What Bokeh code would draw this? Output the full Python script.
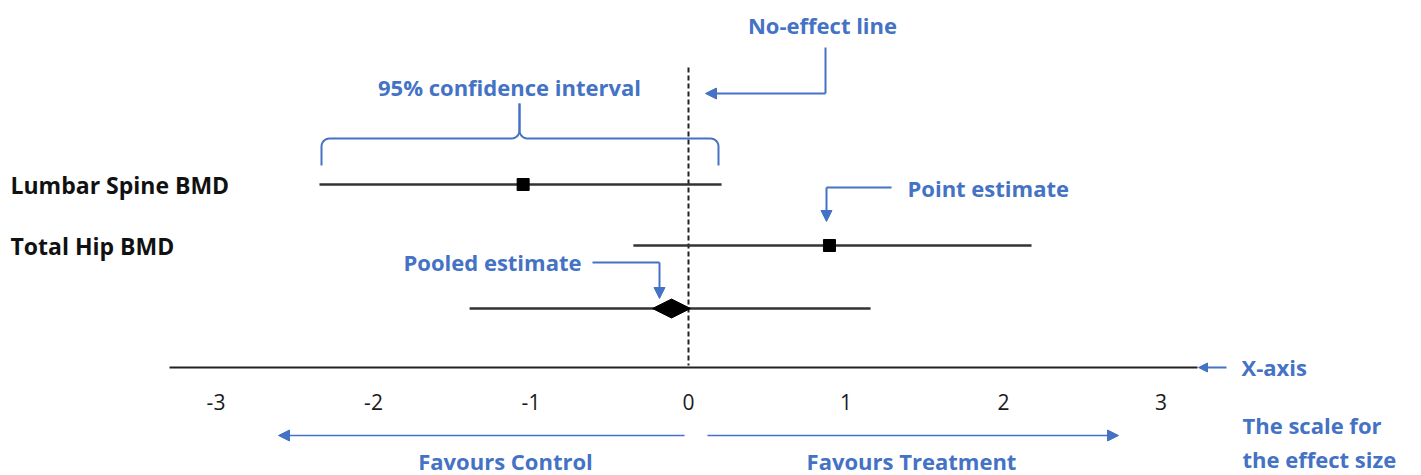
import numpy as np
from bokeh.plotting import figure
from bokeh.models import Range1d, Arrow, NormalHead
from bokeh.core.properties import value
from bokeh.embed import file_html
from bokeh.resources import INLINE

# ---------------- data ----------------
study_labels = ["Lumbar Spine BMD", "Total Hip BMD"]
study_est = [-1.05, 0.895]
study_lo = [-2.343, -0.35]
study_hi = [0.21, 2.178]
pooled_est = [-0.108]
pooled_lo = [-1.39]
pooled_hi = [1.156]
tick_values = [-3, -2, -1, 0, 1, 2, 3]
tick_labels = ["-3", "-2", "-1", "0", "1", "2", "3"]

# ---------------- layout ----------------
W, H = 1421, 475
X0 = 688.0      # pixel of effect 0
S = 157.5       # pixels per effect unit
BLUE = "#4472C4"
FONT = value("Open Sans")
FS = "22px"
ROW_Y0, ROW_STEP = 184, 61
AXIS_Y = 367


def dx(px):
    return (px - X0) / S


p = figure(width=W, height=H, x_range=Range1d(dx(0), dx(W)), y_range=Range1d(H, 0),
           output_backend="svg", toolbar_location=None, min_border=0,
           x_axis_type=None, y_axis_type=None)
p.grid.visible = False
p.outline_line_color = None
p.background_fill_color = "white"
p.border_fill_color = "white"

study_y = [ROW_Y0 + i * ROW_STEP for i in range(len(study_labels))]
pooled_y = [ROW_Y0 + len(study_labels) * ROW_STEP + 2]

# no-effect line
p.segment(x0=[0], x1=[0], y0=[67], y1=[AXIS_Y - 2], line_color="#222222",
          line_width=2, line_dash="5 3")

# x axis line + tick labels
p.segment(x0=[dx(169)], x1=[dx(1197)], y0=[AXIS_Y], y1=[AXIS_Y], line_color="#222222", line_width=2)
p.text(x=tick_values, y=[401] * len(tick_values), text=tick_labels, text_font=FONT,
       text_font_size="21px", text_align="center", text_baseline="middle", text_color="#1a1a1a")

# study CIs and point estimates
p.segment(x0=study_lo, x1=study_hi, y0=study_y, y1=study_y, line_color="#333333", line_width=2.5)
p.scatter(x=study_est, y=study_y, marker="square", size=12, color="black")
p.text(x=[dx(10)] * len(study_labels), y=study_y, text=study_labels, text_font=FONT,
       text_font_style="bold", text_font_size="23px", text_align="left",
       text_baseline="middle", text_color="#111111")

# pooled CI and diamond
p.segment(x0=pooled_lo, x1=pooled_hi, y0=pooled_y, y1=pooled_y, line_color="#333333", line_width=2.5)
hw = 19 / S
hh = 9.5
p.patch(x=[pooled_est[0] - hw, pooled_est[0], pooled_est[0] + hw, pooled_est[0]],
        y=[pooled_y[0], pooled_y[0] - hh, pooled_y[0], pooled_y[0] + hh],
        color="black")

# ---------------- annotations ----------------
def blue_text(xpx, ypx, txt, align="center"):
    p.text(x=[dx(xpx)], y=[ypx], text=[txt], text_font=FONT, text_font_style="bold",
           text_font_size=FS, text_align=align, text_baseline="middle", text_color=BLUE)


def arc(cx, cy, r, a0, a1, n=8):
    a = np.linspace(np.radians(a0), np.radians(a1), n)
    return list(cx + r * np.cos(a)), list(cy - r * np.sin(a))


def head(size=11):
    return NormalHead(size=size, fill_color=BLUE, line_color=BLUE, line_width=1)


# curly brace over Lumbar CI
L, R, M = 321, 718, 519
top, bot, spike = 138, 165, 103
r = 8
xs, ys = [L], [bot]
ax, ay = arc(L + r, top + r, r, 180, 90); xs += ax; ys += ay
ax, ay = arc(M - r, top - r, r, 270, 360); xs += ax; ys += ay
xs += [M]; ys += [spike]
bx = [M]; by = [spike]
ax, ay = arc(M + r, top - r, r, 180, 270); bx += ax; by += ay
ax, ay = arc(R - r, top + r, r, 90, 0); bx += ax; by += ay
bx += [R]; by += [bot]
p.line(x=[dx(v) for v in xs], y=ys, line_color=BLUE, line_width=2)
p.line(x=[dx(v) for v in bx], y=by, line_color=BLUE, line_width=2)
blue_text(509, 86, "95% confidence interval")

# No-effect line label
blue_text(822, 24, "No-effect line")
p.line(x=[dx(825), dx(825)], y=[47, 93], line_color=BLUE, line_width=2)
p.add_layout(Arrow(x_start=dx(825), y_start=93, x_end=dx(705), y_end=93, end=head(),
                   line_color=BLUE, line_width=2))

# Point estimate
blue_text(907, 187, "Point estimate", align="left")
p.line(x=[dx(891), dx(826)], y=[187, 187], line_color=BLUE, line_width=2)
p.add_layout(Arrow(x_start=dx(826), y_start=187, x_end=dx(826), y_end=221, end=head(),
                   line_color=BLUE, line_width=2))

# Pooled estimate
blue_text(492, 261, "Pooled estimate")
p.line(x=[dx(592), dx(659)], y=[262, 262], line_color=BLUE, line_width=2)
p.add_layout(Arrow(x_start=dx(659), y_start=262, x_end=dx(659), y_end=298, end=head(),
                   line_color=BLUE, line_width=2))

# X-axis
p.add_layout(Arrow(x_start=dx(1226), y_start=AXIS_Y, x_end=dx(1198), y_end=AXIS_Y, end=head(9),
                   line_color=BLUE, line_width=2))
blue_text(1241, AXIS_Y - 1, "X-axis", align="left")

# Favours arrows
p.add_layout(Arrow(x_start=dx(684), y_start=435, x_end=dx(278), y_end=435, end=head(11),
                   line_color=BLUE, line_width=1.5))
p.add_layout(Arrow(x_start=dx(707), y_start=435, x_end=dx(1118), y_end=435, end=head(11),
                   line_color=BLUE, line_width=1.5))
blue_text(505, 460, "Favours Control")
blue_text(911, 460, "Favours Treatment")

blue_text(1242, 424, "The scale for", align="left")
blue_text(1242, 458, "the effect size", align="left")

open("out.html", "w").write(file_html(p, INLINE))
